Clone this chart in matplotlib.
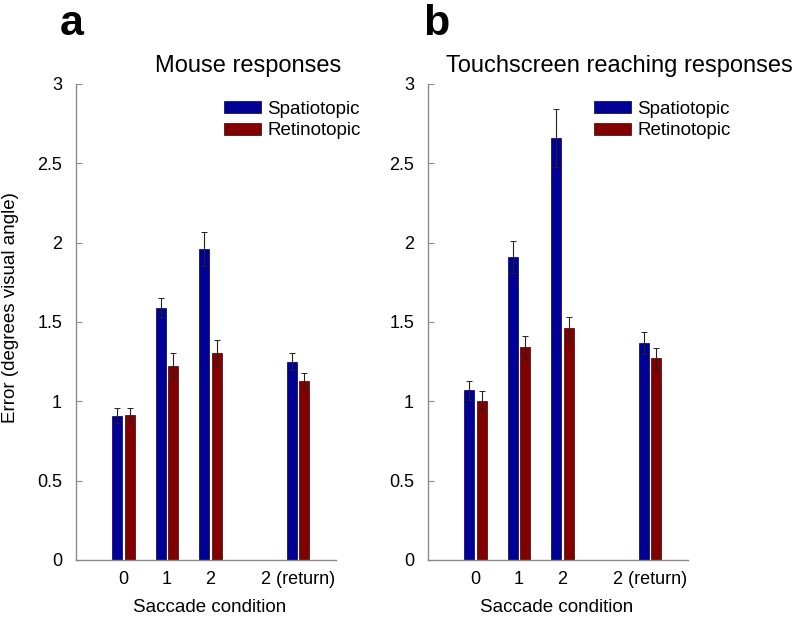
"""Localization error by saccade condition, mouse vs touchscreen responses."""

import numpy as np
import matplotlib
matplotlib.use("Agg")
import matplotlib.pyplot as plt

plt.rcParams["font.family"] = ["Liberation Sans", "DejaVu Sans"]

conditions = ["0", "1", "2", "2 (return)"]
positions = [1, 2, 3, 5]

mouse_spatio = [0.91, 1.59, 1.96, 1.25]
mouse_spatio_err = [0.045, 0.06, 0.11, 0.055]
mouse_retino = [0.915, 1.225, 1.305, 1.13]
mouse_retino_err = [0.045, 0.08, 0.08, 0.05]

touch_spatio = [1.07, 1.91, 2.66, 1.37]
touch_spatio_err = [0.06, 0.10, 0.18, 0.07]
touch_retino = [1.005, 1.34, 1.46, 1.27]
touch_retino_err = [0.057, 0.072, 0.074, 0.067]

BLUE = "#000096"
RED = "#830000"
GRAY = "#8a8a8a"

W, H = 800, 618
fig = plt.figure(figsize=(W / 100, H / 100), dpi=100)


def px_axes(left, right, top, bottom):
    return fig.add_axes([left / W, 1 - bottom / H, (right - left) / W, (bottom - top) / H])


def draw_panel(ax, spatio, spatio_err, retino, retino_err, legend_x):
    x = np.array(positions, dtype=float)
    width = 0.23
    off = 0.14
    err_kw = dict(ecolor="#222222", elinewidth=0.8, capsize=2.2, capthick=0.7)
    ax.bar(x - off, spatio, width, yerr=spatio_err, color=BLUE,
           edgecolor="#00004a", linewidth=0.5, error_kw=err_kw, label="Spatiotopic")
    ax.bar(x + off, retino, width, yerr=retino_err, color=RED,
           edgecolor="#3a0000", linewidth=0.5, error_kw=err_kw, label="Retinotopic")

    ax.set_xlim(-0.09, 5.88)
    ax.set_ylim(0, 3)
    ax.set_xticks(positions)
    ax.set_xticklabels(conditions)
    ax.set_yticks([0, 0.5, 1, 1.5, 2, 2.5, 3])
    ax.set_yticklabels(["0", "0.5", "1", "1.5", "2", "2.5", "3"])
    ax.tick_params(axis="both", direction="in", length=4, color=GRAY,
                   labelsize=13, width=0.8)
    ax.tick_params(axis="y", pad=10)
    ax.tick_params(axis="x", pad=8, length=0)
    for side in ("top", "right"):
        ax.spines[side].set_visible(False)
    for side in ("left", "bottom"):
        ax.spines[side].set_color(GRAY)
        ax.spines[side].set_linewidth(1.0)

    ax.legend(loc="upper left", bbox_to_anchor=(legend_x, 0.965), frameon=False,
              fontsize=13.5, handlelength=2.0, handleheight=0.65,
              handletextpad=0.3, labelspacing=0.25, borderpad=0, borderaxespad=0)


ax_a = px_axes(76, 336, 84, 560)
ax_b = px_axes(428, 688, 84, 560)

draw_panel(ax_a, mouse_spatio, mouse_spatio_err, mouse_retino, mouse_retino_err, 0.569)
draw_panel(ax_b, touch_spatio, touch_spatio_err, touch_retino, touch_retino_err, 0.638)

# panel titles and letters
fig.text(248 / W, 1 - 66 / H, "Mouse responses", ha="center", va="center", fontsize=17)
fig.text(619 / W, 1 - 66 / H, "Touchscreen reaching responses", ha="center",
         va="center", fontsize=17)
fig.text(60 / W, 1 - 35 / H, "a", ha="left", va="baseline", fontsize=31,
         fontweight="bold")
fig.text(423 / W, 1 - 35 / H, "b", ha="left", va="baseline", fontsize=31,
         fontweight="bold")

# axis labels
fig.text(11 / W, 1 - 308 / H, "Error (degrees visual angle)", rotation=90,
         ha="center", va="center", fontsize=13.5)
fig.text(210 / W, 1 - 608 / H, "Saccade condition", ha="center", va="center",
         fontsize=13.5)
fig.text(557 / W, 1 - 608 / H, "Saccade condition", ha="center", va="center",
         fontsize=13.5)

fig.savefig("out.png", dpi=100)
